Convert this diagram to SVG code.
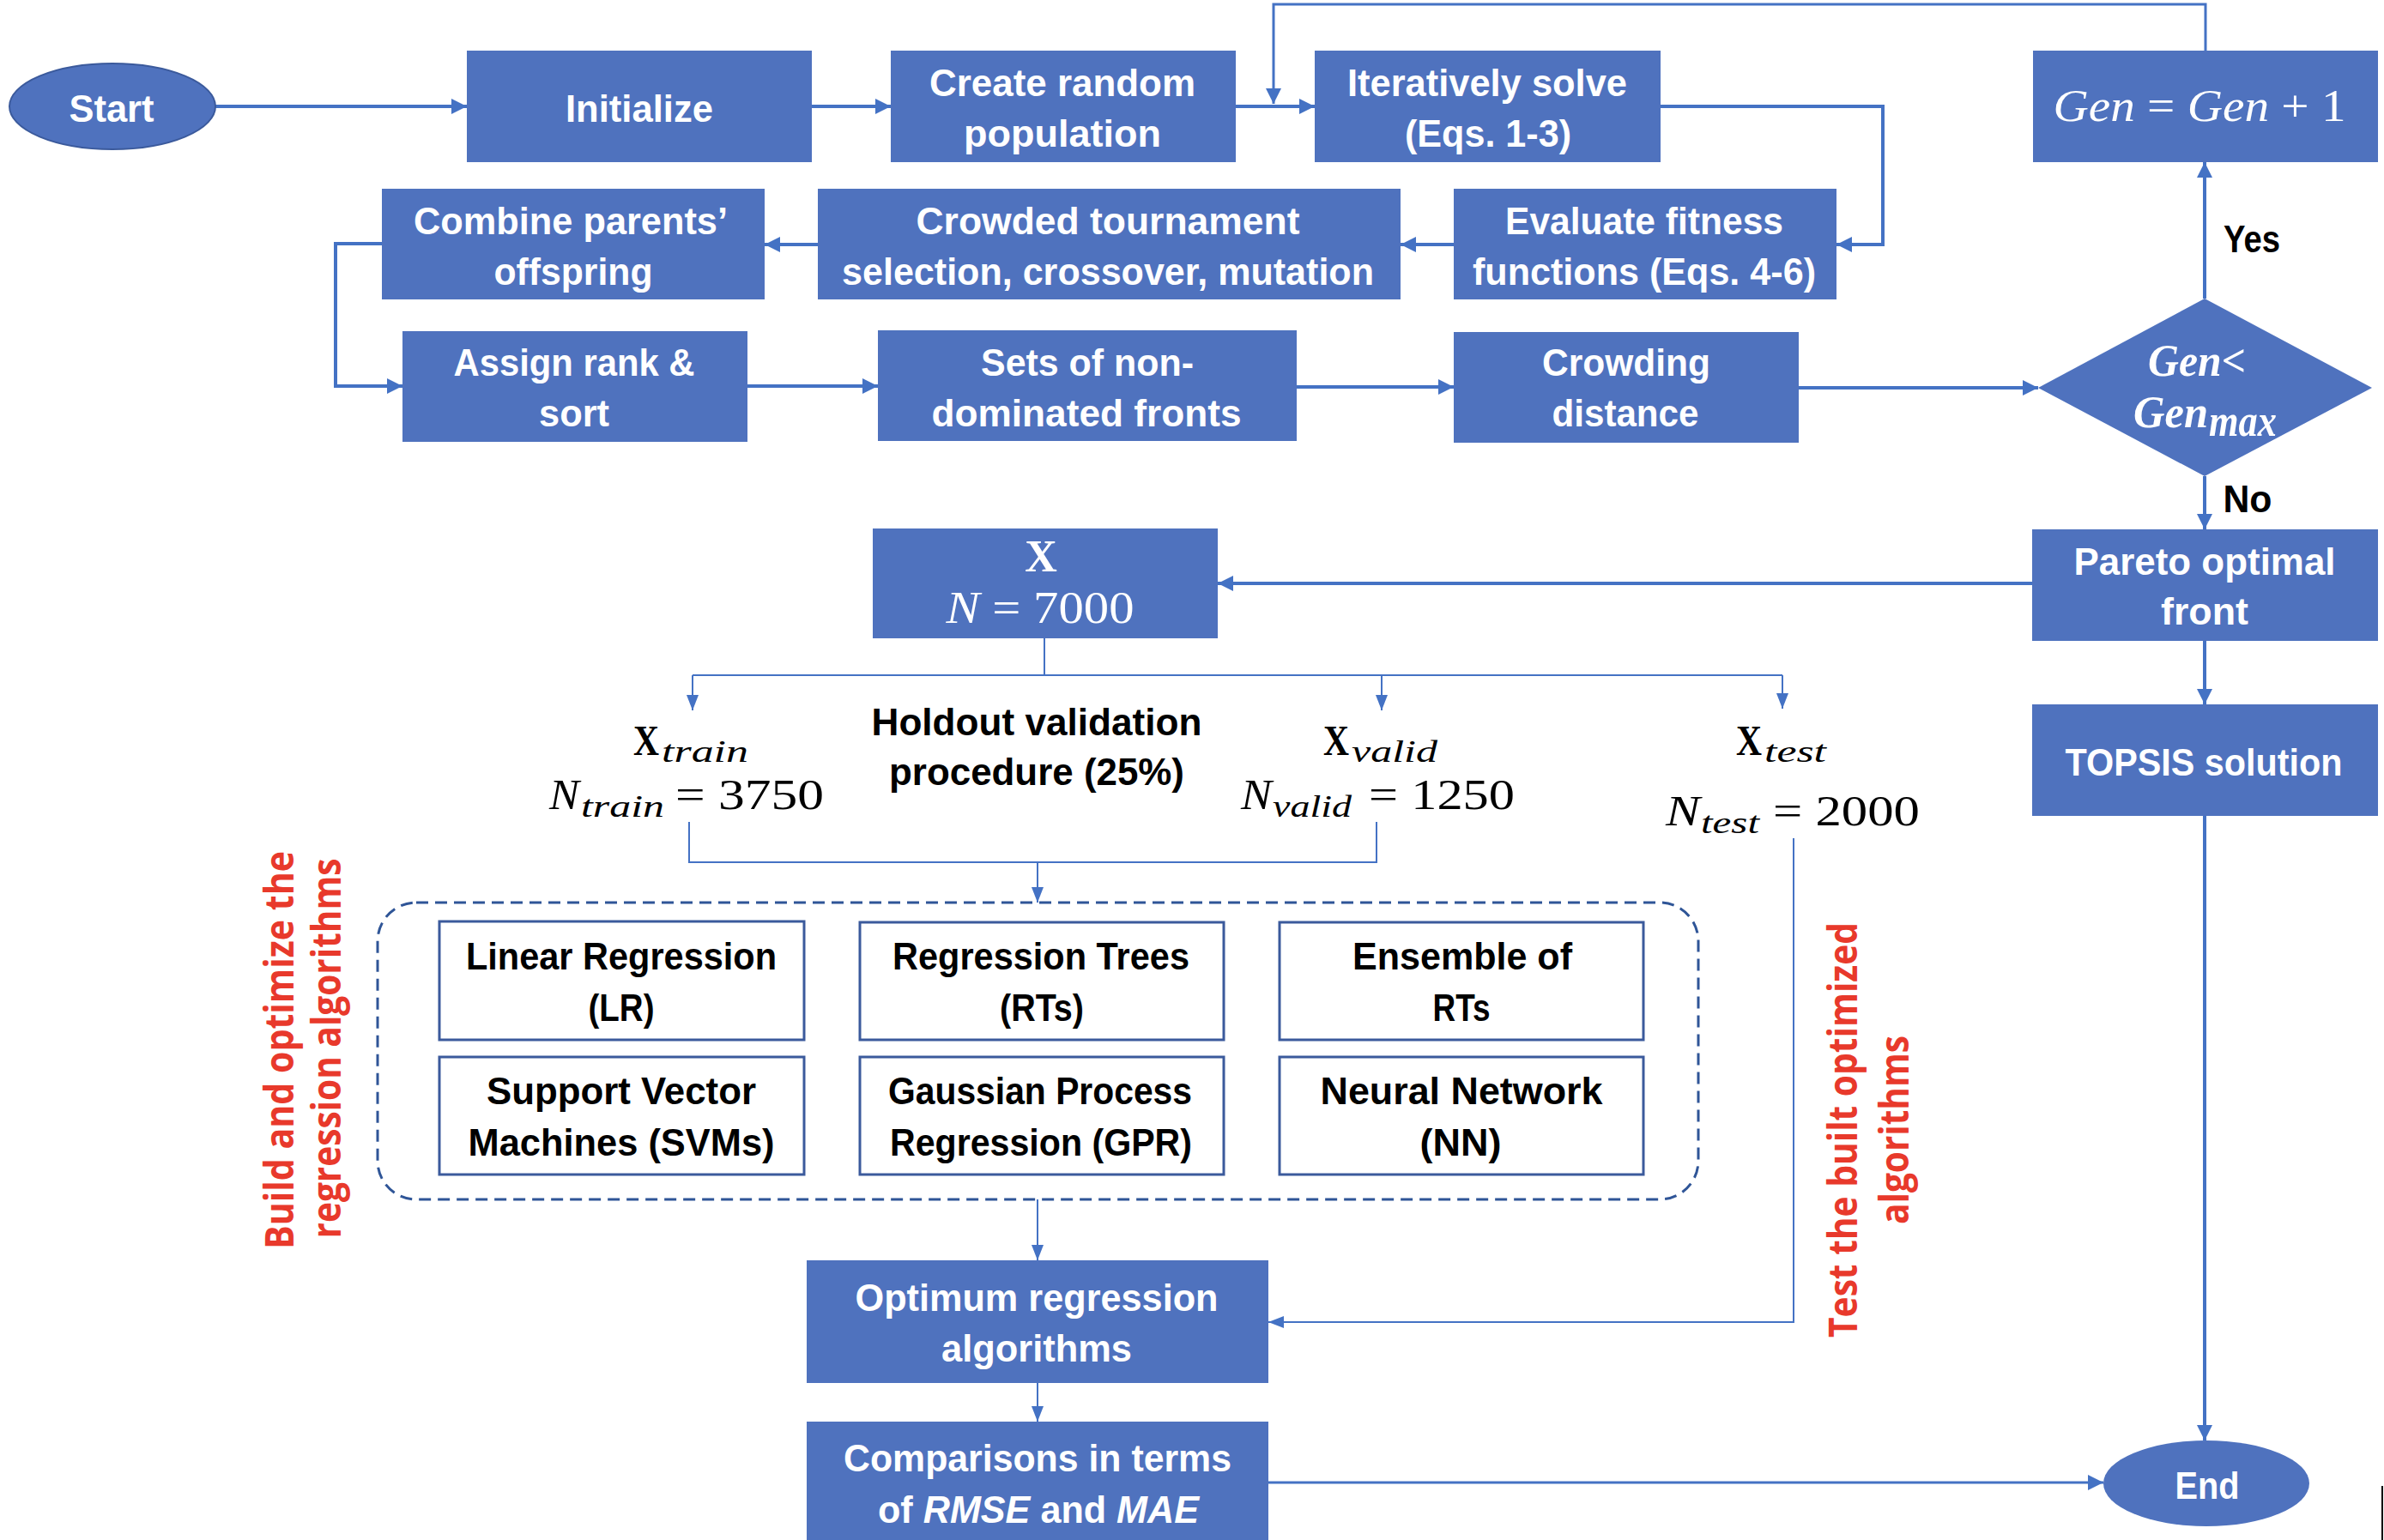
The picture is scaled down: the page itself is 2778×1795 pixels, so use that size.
<svg xmlns="http://www.w3.org/2000/svg" width="2778" height="1795" viewBox="0 0 2778 1795">
<defs>
<style>
.box{fill:#4F72BE;}
.wbox{fill:#fff;stroke:#3B5A9C;stroke-width:3;}
.t{font-family:"Liberation Sans",Arial,sans-serif;font-weight:bold;font-size:45px;fill:#fff;text-anchor:middle;}
.k{font-family:"Liberation Sans",Arial,sans-serif;font-weight:bold;font-size:45px;fill:#000;text-anchor:middle;}
.m{font-family:"Liberation Serif","DejaVu Serif",serif;font-size:50px;fill:#000;}
.mw{font-family:"Liberation Serif","DejaVu Serif",serif;font-size:52px;fill:#fff;}
.sub{font-size:36px;font-style:italic;}
.red{font-family:"Open Sans","DejaVu Sans",sans-serif;font-weight:bold;font-size:47px;fill:#E8392B;text-anchor:middle;}
.c{fill:none;stroke:#4472C4;stroke-width:4;}
.ct{fill:none;stroke:#4472C4;stroke-width:2;}
</style>
<marker id="ah" markerUnits="userSpaceOnUse" markerWidth="18" markerHeight="18" refX="18" refY="9" orient="auto">
<path d="M0,0 L18,9 L0,18 Z" fill="#4472C4"/>
</marker>
<marker id="at" markerUnits="userSpaceOnUse" markerWidth="18" markerHeight="14" refX="18" refY="7" orient="auto">
<path d="M0,0 L18,7 L0,14 Z" fill="#4472C4"/>
</marker>
</defs>
<rect width="2778" height="1795" fill="#fff"/>

<g id="connectors">
<path class="c" d="M250,124 H544" marker-end="url(#ah)"/>
<path class="c" d="M946,124 H1038" marker-end="url(#ah)"/>
<path class="c" d="M1440,124 H1532" marker-end="url(#ah)"/>
<path class="c" style="stroke-width:3" d="M2570,59 V5 H1484 V121" marker-end="url(#ah)"/>
<path class="c" d="M1935,124 H2194 V285 H2140" marker-end="url(#ah)"/>
<path class="c" d="M1694,285 H1632" marker-end="url(#ah)"/>
<path class="c" d="M953,285 H891" marker-end="url(#ah)"/>
<path class="c" d="M445,284 H391 V450 H469" marker-end="url(#ah)"/>
<path class="c" d="M871,450 H1023" marker-end="url(#ah)"/>
<path class="c" d="M1511,451 H1694" marker-end="url(#ah)"/>
<path class="c" d="M2096,452 H2375" marker-end="url(#ah)"/>
<path class="c" d="M2569,348 V189" marker-end="url(#ah)"/>
<path class="c" d="M2569,555 V617" marker-end="url(#ah)"/>
<path class="c" d="M2368,680 H1419" marker-end="url(#ah)"/>
<path class="c" d="M2569,747 V821" marker-end="url(#ah)"/>
<path class="c" d="M2569,951 V1679" marker-end="url(#ah)"/>
<path class="c" style="stroke-width:3" d="M1478,1728 H2451" marker-end="url(#ah)"/>
<path class="ct" d="M1217,744 V787 M807,787 H2077"/>
<path class="ct" d="M807,787 V828" marker-end="url(#at)"/>
<path class="ct" d="M1610,787 V828" marker-end="url(#at)"/>
<path class="ct" d="M2077,787 V826" marker-end="url(#at)"/>
<path class="ct" d="M803,958 V1005 H1604 V958"/>
<path class="ct" d="M1209,1005 V1052" marker-end="url(#at)"/>
<path class="ct" d="M1209,1398 V1469" marker-end="url(#at)"/>
<path class="ct" d="M2090,977 V1541 H1478" marker-end="url(#at)"/>
<path class="ct" d="M1209,1612 V1657" marker-end="url(#at)"/>
</g>

<g id="start">
<ellipse class="box" cx="131" cy="124" rx="120" ry="50" stroke="#3B5A9C" stroke-width="2"/>
<text class="t" x="130" y="142" textLength="99" lengthAdjust="spacingAndGlyphs">Start</text>
</g>
<g id="initialize">
<rect class="box" x="544" y="59" width="402" height="130"/>
<text class="t" x="745" y="142" textLength="172" lengthAdjust="spacingAndGlyphs">Initialize</text>
</g>
<g id="create">
<rect class="box" x="1038" y="59" width="402" height="130"/>
<text class="t" x="1238" y="112" textLength="310" lengthAdjust="spacingAndGlyphs">Create random</text>
<text class="t" x="1238" y="171" textLength="230" lengthAdjust="spacingAndGlyphs">population</text>
</g>
<g id="iterative">
<rect class="box" x="1532" y="59" width="403" height="130"/>
<text class="t" x="1733" y="112" textLength="326" lengthAdjust="spacingAndGlyphs">Iteratively solve</text>
<text class="t" x="1734" y="171" textLength="194" lengthAdjust="spacingAndGlyphs">(Eqs. 1-3)</text>
</g>
<g id="gen-update">
<rect class="box" x="2369" y="59" width="402" height="130"/>
<text class="mw" x="2563" y="141" text-anchor="middle" textLength="341" lengthAdjust="spacingAndGlyphs"><tspan font-style="italic">Gen</tspan> = <tspan font-style="italic">Gen</tspan> + 1</text>
</g>
<g id="combine">
<rect class="box" x="445" y="220" width="446" height="129"/>
<text class="t" x="665" y="273" textLength="366" lengthAdjust="spacingAndGlyphs">Combine parents’</text>
<text class="t" x="668" y="332" textLength="185" lengthAdjust="spacingAndGlyphs">offspring</text>
</g>
<g id="crowded">
<rect class="box" x="953" y="220" width="679" height="129"/>
<text class="t" x="1291" y="273" textLength="447" lengthAdjust="spacingAndGlyphs">Crowded tournament</text>
<text class="t" x="1291" y="332" textLength="620" lengthAdjust="spacingAndGlyphs">selection, crossover, mutation</text>
</g>
<g id="evaluate">
<rect class="box" x="1694" y="220" width="446" height="129"/>
<text class="t" x="1916" y="273" textLength="324" lengthAdjust="spacingAndGlyphs">Evaluate fitness</text>
<text class="t" x="1916" y="332" textLength="400" lengthAdjust="spacingAndGlyphs">functions (Eqs. 4-6)</text>
</g>
<g id="assign">
<rect class="box" x="469" y="386" width="402" height="129"/>
<text class="t" x="669" y="438" textLength="281" lengthAdjust="spacingAndGlyphs">Assign rank &amp;</text>
<text class="t" x="669" y="497" textLength="82" lengthAdjust="spacingAndGlyphs">sort</text>
</g>
<g id="fronts">
<rect class="box" x="1023" y="385" width="488" height="129"/>
<text class="t" x="1267" y="438" textLength="248" lengthAdjust="spacingAndGlyphs">Sets of non-</text>
<text class="t" x="1266" y="497" textLength="361" lengthAdjust="spacingAndGlyphs">dominated fronts</text>
</g>
<g id="crowding">
<rect class="box" x="1694" y="387" width="402" height="129"/>
<text class="t" x="1895" y="438" textLength="196" lengthAdjust="spacingAndGlyphs">Crowding</text>
<text class="t" x="1894" y="497" textLength="171" lengthAdjust="spacingAndGlyphs">distance</text>
</g>
<g id="decision">
<polygon class="box" points="2569,348 2764,452 2569,555 2375,452"/>
<text class="mw" x="2503" y="438" font-style="italic" font-weight="bold" font-size="48" textLength="114" lengthAdjust="spacingAndGlyphs">Gen&lt;</text>
<text class="mw" x="2486" y="498" font-style="italic" font-weight="bold" font-size="48" textLength="87" lengthAdjust="spacingAndGlyphs">Gen</text>
<text class="mw" x="2574" y="508" font-style="italic" font-weight="bold" font-size="36" textLength="79" lengthAdjust="spacingAndGlyphs">max</text>
</g>
<g id="yes-label"><text class="k" x="2624" y="294" textLength="66" lengthAdjust="spacingAndGlyphs">Yes</text></g>
<g id="no-label"><text class="k" x="2619" y="597" textLength="57" lengthAdjust="spacingAndGlyphs">No</text></g>
<g id="pareto">
<rect class="box" x="2368" y="617" width="403" height="130"/>
<text class="t" x="2569" y="670" textLength="305" lengthAdjust="spacingAndGlyphs">Pareto optimal</text>
<text class="t" x="2569" y="728" textLength="102" lengthAdjust="spacingAndGlyphs">front</text>
</g>
<g id="topsis">
<rect class="box" x="2368" y="821" width="403" height="130"/>
<text class="t" x="2568" y="904" textLength="323" lengthAdjust="spacingAndGlyphs">TOPSIS solution</text>
</g>
<g id="end">
<ellipse class="box" cx="2571" cy="1729" rx="120" ry="50"/>
<text class="t" x="2572" y="1747" textLength="75" lengthAdjust="spacingAndGlyphs">End</text>
</g>
<g id="dataset">
<rect class="box" x="1017" y="616" width="402" height="128"/>
<text class="mw" x="1213" y="666" font-weight="bold" font-size="48" text-anchor="middle">X</text>
<text class="mw" x="1212" y="726" text-anchor="middle" textLength="219" lengthAdjust="spacingAndGlyphs"><tspan font-style="italic">N</tspan> = 7000</text>
</g>
<g id="train">
<text class="m" x="738" y="880" font-weight="bold" textLength="30" lengthAdjust="spacingAndGlyphs">X</text>
<text class="m sub" x="771" y="888" textLength="101" lengthAdjust="spacingAndGlyphs">train</text>
<text class="m" x="640" y="943" font-style="italic" textLength="35" lengthAdjust="spacingAndGlyphs">N</text>
<text class="m sub" x="677" y="952" textLength="97" lengthAdjust="spacingAndGlyphs">train</text>
<text class="m" x="787" y="943" textLength="173" lengthAdjust="spacingAndGlyphs">= 3750</text>
</g>
<g id="holdout">
<text class="k" x="1208" y="857" textLength="385" lengthAdjust="spacingAndGlyphs">Holdout validation</text>
<text class="k" x="1208" y="915" textLength="344" lengthAdjust="spacingAndGlyphs">procedure (25%)</text>
</g>
<g id="valid">
<text class="m" x="1542" y="880" font-weight="bold" textLength="30" lengthAdjust="spacingAndGlyphs">X</text>
<text class="m sub" x="1575" y="888" textLength="100" lengthAdjust="spacingAndGlyphs">valid</text>
<text class="m" x="1446" y="943" font-style="italic" textLength="36" lengthAdjust="spacingAndGlyphs">N</text>
<text class="m sub" x="1483" y="952" textLength="92" lengthAdjust="spacingAndGlyphs">valid</text>
<text class="m" x="1595" y="943" textLength="170" lengthAdjust="spacingAndGlyphs">= 1250</text>
</g>
<g id="test">
<text class="m" x="2023" y="880" font-weight="bold" textLength="30" lengthAdjust="spacingAndGlyphs">X</text>
<text class="m sub" x="2056" y="888" textLength="72" lengthAdjust="spacingAndGlyphs">test</text>
<text class="m" x="1941" y="962" font-style="italic" textLength="40" lengthAdjust="spacingAndGlyphs">N</text>
<text class="m sub" x="1982" y="971" textLength="68" lengthAdjust="spacingAndGlyphs">test</text>
<text class="m" x="2066" y="962" textLength="171" lengthAdjust="spacingAndGlyphs">= 2000</text>
</g>
<g id="algorithms-group">
<rect x="440" y="1052" width="1539" height="346" rx="45" ry="45" fill="none" stroke="#2F5597" stroke-width="3" stroke-dasharray="14 8"/>
</g>
<g id="lr">
<rect class="wbox" x="512" y="1074" width="425" height="138"/>
<text class="k" x="724" y="1130" textLength="362" lengthAdjust="spacingAndGlyphs">Linear Regression</text>
<text class="k" x="724" y="1190" textLength="77" lengthAdjust="spacingAndGlyphs">(LR)</text>
</g>
<g id="rt">
<rect class="wbox" x="1002" y="1075" width="424" height="137"/>
<text class="k" x="1213" y="1130" textLength="346" lengthAdjust="spacingAndGlyphs">Regression Trees</text>
<text class="k" x="1214" y="1190" textLength="98" lengthAdjust="spacingAndGlyphs">(RTs)</text>
</g>
<g id="ensemble">
<rect class="wbox" x="1491" y="1075" width="424" height="137"/>
<text class="k" x="1704" y="1130" textLength="256" lengthAdjust="spacingAndGlyphs">Ensemble of</text>
<text class="k" x="1703" y="1190" textLength="67" lengthAdjust="spacingAndGlyphs">RTs</text>
</g>
<g id="svm">
<rect class="wbox" x="512" y="1232" width="425" height="137"/>
<text class="k" x="724" y="1287" textLength="314" lengthAdjust="spacingAndGlyphs">Support Vector</text>
<text class="k" x="724" y="1347" textLength="357" lengthAdjust="spacingAndGlyphs">Machines (SVMs)</text>
</g>
<g id="gpr">
<rect class="wbox" x="1002" y="1232" width="424" height="137"/>
<text class="k" x="1212" y="1287" textLength="354" lengthAdjust="spacingAndGlyphs">Gaussian Process</text>
<text class="k" x="1213" y="1347" textLength="352" lengthAdjust="spacingAndGlyphs">Regression (GPR)</text>
</g>
<g id="nn">
<rect class="wbox" x="1491" y="1232" width="424" height="137"/>
<text class="k" x="1703" y="1287" textLength="329" lengthAdjust="spacingAndGlyphs">Neural Network</text>
<text class="k" x="1702" y="1347" textLength="95" lengthAdjust="spacingAndGlyphs">(NN)</text>
</g>
<g id="optimum">
<rect class="box" x="940" y="1469" width="538" height="143"/>
<text class="t" x="1208" y="1528" textLength="423" lengthAdjust="spacingAndGlyphs">Optimum regression</text>
<text class="t" x="1208" y="1587" textLength="222" lengthAdjust="spacingAndGlyphs">algorithms</text>
</g>
<g id="comparisons">
<rect class="box" x="940" y="1657" width="538" height="145"/>
<text class="t" x="1209" y="1715" textLength="452" lengthAdjust="spacingAndGlyphs">Comparisons in terms</text>
<text class="t" x="1210" y="1775" textLength="374" lengthAdjust="spacingAndGlyphs">of <tspan font-style="italic">RMSE</tspan> and <tspan font-style="italic">MAE</tspan></text>
</g>
<g id="build-label">
<text class="red" transform="translate(342,1224) rotate(-90)" textLength="464" lengthAdjust="spacingAndGlyphs">Build and optimize the</text>
<text class="red" transform="translate(397,1222) rotate(-90)" textLength="443" lengthAdjust="spacingAndGlyphs">regression algorithms</text>
</g>
<g id="test-label">
<text class="red" transform="translate(2164,1317) rotate(-90)" textLength="484" lengthAdjust="spacingAndGlyphs">Test the built optimized</text>
<text class="red" transform="translate(2224,1317) rotate(-90)" textLength="220" lengthAdjust="spacingAndGlyphs">algorithms</text>
</g>
<line x1="2776" y1="1732" x2="2776" y2="1795" stroke="#000" stroke-width="2"/>
</svg>
